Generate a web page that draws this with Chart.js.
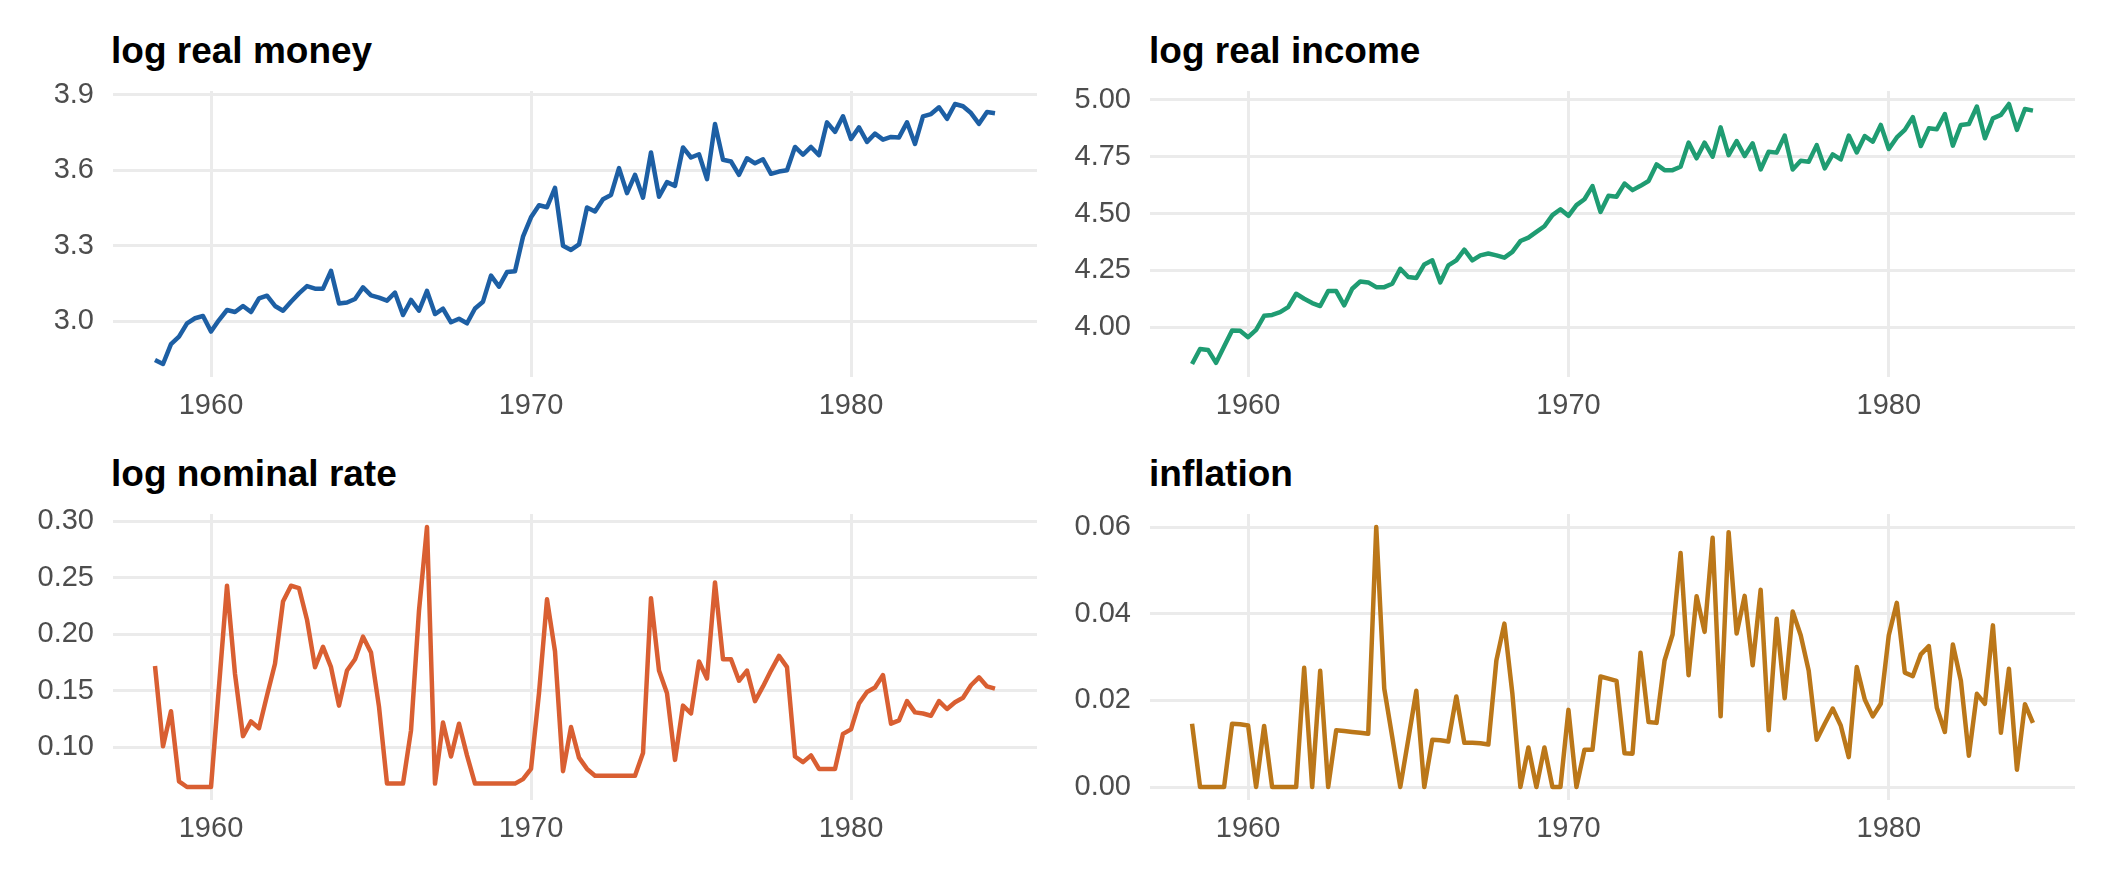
<!DOCTYPE html>
<html>
<head>
<meta charset="utf-8">
<script src="https://cdn.jsdelivr.net/npm/chart.js@4.4.1/dist/chart.umd.min.js"></script>
<style>
  html, body { margin: 0; padding: 0; background: #fff; }
  body { position: relative; width: 2112px; height: 883px; overflow: hidden; font-family: "Liberation Sans", Arial, sans-serif; }
  .panel-title { position: absolute; font-weight: bold; font-size: 37px; line-height: 37px; color: #000; white-space: nowrap; }
  canvas { position: absolute; }
</style>
</head>
<body>
<div class="panel-title" style="left:111px; top:32px">log real money</div>
<div class="panel-title" style="left:1149px; top:32px">log real income</div>
<div class="panel-title" style="left:111px; top:455px">log nominal rate</div>
<div class="panel-title" style="left:1149px; top:455px">inflation</div>

<canvas id="money" width="1037" height="366" style="left:0px; top:71px"></canvas>
<canvas id="income" width="1038" height="366" style="left:1037px; top:71px"></canvas>
<canvas id="rate" width="1037" height="366" style="left:0px; top:494px"></canvas>
<canvas id="inflation" width="1038" height="366" style="left:1037px; top:494px"></canvas>

<script>
// quarterly series, 1958 Q2 .. 1984 Q3 (one row per year)
const firstQuarter = 1958.25;

const money = [
  2.845, 2.829, 2.908,
  2.938, 2.991, 3.011, 3.020,
  2.958, 3.004, 3.044, 3.036,
  3.060, 3.036, 3.090, 3.101,
  3.060, 3.041, 3.077, 3.110,
  3.139, 3.129, 3.129, 3.200,
  3.070, 3.074, 3.088, 3.134,
  3.102, 3.093, 3.081, 3.113,
  3.024, 3.084, 3.041, 3.120,
  3.028, 3.049, 2.995, 3.009,
  2.991, 3.050, 3.077, 3.181,
  3.137, 3.195, 3.198, 3.336,
  3.413, 3.461, 3.453, 3.530,
  3.300, 3.283, 3.305, 3.452,
  3.436, 3.485, 3.502, 3.609,
  3.509, 3.582, 3.491, 3.671,
  3.495, 3.553, 3.538, 3.691,
  3.651, 3.664, 3.565, 3.784,
  3.642, 3.635, 3.582, 3.648,
  3.628, 3.644, 3.586, 3.595,
  3.600, 3.693, 3.662, 3.693,
  3.660, 3.791, 3.753, 3.815,
  3.725, 3.771, 3.713, 3.746,
  3.722, 3.733, 3.731, 3.791,
  3.705, 3.815, 3.824, 3.851,
  3.805, 3.864, 3.855, 3.828,
  3.785, 3.832, 3.827
];

const income = [
  3.838, 3.904, 3.900,
  3.843, 3.915, 3.985, 3.984,
  3.956, 3.988, 4.050, 4.054,
  4.066, 4.088, 4.147, 4.125,
  4.106, 4.093, 4.159, 4.159,
  4.096, 4.169, 4.201, 4.197,
  4.176, 4.176, 4.191, 4.257,
  4.221, 4.216, 4.276, 4.294,
  4.197, 4.272, 4.294, 4.341,
  4.294, 4.316, 4.324, 4.316,
  4.306, 4.331, 4.379, 4.394,
  4.419, 4.444, 4.493, 4.519,
  4.490, 4.537, 4.563, 4.621,
  4.507, 4.578, 4.574, 4.632,
  4.603, 4.622, 4.643, 4.716,
  4.691, 4.691, 4.706, 4.812,
  4.743, 4.812, 4.750, 4.879,
  4.757, 4.819, 4.753, 4.809,
  4.694, 4.772, 4.768, 4.843,
  4.694, 4.732, 4.728, 4.801,
  4.699, 4.760, 4.738, 4.843,
  4.769, 4.841, 4.816, 4.890,
  4.784, 4.835, 4.868, 4.924,
  4.797, 4.875, 4.871, 4.938,
  4.799, 4.890, 4.894, 4.971,
  4.831, 4.919, 4.934, 4.982,
  4.868, 4.960, 4.953
];

const rate = [
  0.172, 0.101, 0.132,
  0.070, 0.065, 0.065, 0.065,
  0.065, 0.154, 0.243, 0.165,
  0.110, 0.123, 0.117, 0.146,
  0.174, 0.229, 0.243, 0.241,
  0.213, 0.171, 0.189, 0.171,
  0.137, 0.168, 0.178, 0.198,
  0.184, 0.136, 0.068, 0.068,
  0.068, 0.115, 0.221, 0.295,
  0.068, 0.122, 0.092, 0.121,
  0.093, 0.068, 0.068, 0.068,
  0.068, 0.068, 0.068, 0.072,
  0.081, 0.148, 0.231, 0.185,
  0.079, 0.118, 0.091, 0.081,
  0.075, 0.075, 0.075, 0.075,
  0.075, 0.075, 0.095, 0.232,
  0.168, 0.148, 0.089, 0.137,
  0.130, 0.176, 0.161, 0.246,
  0.178, 0.178, 0.159, 0.168,
  0.141, 0.154, 0.168, 0.181,
  0.171, 0.092, 0.087, 0.093,
  0.081, 0.081, 0.081, 0.112,
  0.116, 0.139, 0.149, 0.153,
  0.164, 0.121, 0.124, 0.141,
  0.131, 0.130, 0.128, 0.141,
  0.134, 0.140, 0.144, 0.155,
  0.162, 0.154, 0.152
];

const inflation = [
  0.0146, 0.0000, 0.0000,
  0.0000, 0.0000, 0.0146, 0.0145,
  0.0142, 0.0000, 0.0141, 0.0000,
  0.0000, 0.0000, 0.0000, 0.0275,
  0.0000, 0.0268, 0.0000, 0.0131,
  0.0129, 0.0127, 0.0125, 0.0123,
  0.0600, 0.0227, 0.0115, 0.0000,
  0.0110, 0.0222, 0.0000, 0.0109,
  0.0108, 0.0105, 0.0209, 0.0102,
  0.0102, 0.0101, 0.0098, 0.0292,
  0.0377, 0.0215, 0.0000, 0.0091,
  0.0000, 0.0091, 0.0000, 0.0000,
  0.0178, 0.0000, 0.0086, 0.0086,
  0.0255, 0.0250, 0.0245, 0.0078,
  0.0077, 0.0310, 0.0150, 0.0148,
  0.0292, 0.0352, 0.0540, 0.0258,
  0.0440, 0.0358, 0.0575, 0.0163,
  0.0588, 0.0354, 0.0441, 0.0281,
  0.0455, 0.0131, 0.0388, 0.0205,
  0.0405, 0.0350, 0.0268, 0.0109,
  0.0146, 0.0181, 0.0142, 0.0069,
  0.0277, 0.0202, 0.0163, 0.0192,
  0.0350, 0.0425, 0.0264, 0.0256,
  0.0306, 0.0325, 0.0183, 0.0127,
  0.0329, 0.0245, 0.0072, 0.0215,
  0.0192, 0.0373, 0.0125, 0.0273,
  0.0040, 0.0191, 0.0148
];

// tick labels
const yearTicks = [1960, 1970, 1980];
const moneyTicks = [3.0, 3.3, 3.6, 3.9];
const incomeTicks = [4.0, 4.25, 4.5, 4.75, 5.0];
const rateTicks = [0.10, 0.15, 0.20, 0.25, 0.30];
const inflationTicks = [0.00, 0.02, 0.04, 0.06];

const time = money.map((_, i) => firstQuarter + i / 4);

const FONT = '"Liberation Sans", Arial, sans-serif';
const GRID = '#ebebeb';
const TICK_COLOR = '#4d4d4d';

// ggplot-style 5% expansion on each side
function expand(values) {
  const lo = Math.min(...values), hi = Math.max(...values);
  const pad = (hi - lo) * 0.05;
  return [lo - pad, hi + pad];
}

function renderPanel(canvasId, values, color, yTicks, decimals) {
  const [xMin, xMax] = expand(time);
  const [yMin, yMax] = expand(values);
  const ctx = document.getElementById(canvasId).getContext('2d');
  new Chart(ctx, {
    type: 'line',
    data: {
      datasets: [{
        data: values.map((v, i) => ({ x: time[i], y: v })),
        borderColor: color,
        borderWidth: 4.5,
        borderJoinStyle: 'round',
        borderCapStyle: 'butt',
        pointRadius: 0,
        tension: 0,
        fill: false,
      }],
    },
    options: {
      responsive: false,
      animation: false,
      layout: { padding: { top: 20, left: 0, right: 0, bottom: 0 } },
      plugins: { legend: { display: false }, tooltip: { enabled: false } },
      scales: {
        x: {
          type: 'linear',
          min: xMin,
          max: xMax,
          afterBuildTicks: (scale) => { scale.ticks = yearTicks.map((v) => ({ value: v })); },
          afterFit: (scale) => { scale.height = 60; scale.paddingLeft = 0; scale.paddingRight = 0; },
          grid: { color: GRID, lineWidth: 3, drawTicks: false },
          border: { display: false },
          ticks: {
            color: TICK_COLOR,
            font: { family: FONT, size: 29 },
            padding: 12,
            maxRotation: 0,
            callback: (v) => String(v),
          },
        },
        y: {
          min: yMin,
          max: yMax,
          afterBuildTicks: (scale) => { scale.ticks = yTicks.map((v) => ({ value: v })); },
          afterFit: (scale) => { scale.width = 113; scale.paddingTop = 0; scale.paddingBottom = 0; },
          grid: { color: GRID, lineWidth: 3, drawTicks: false },
          border: { display: false },
          ticks: {
            color: TICK_COLOR,
            font: { family: FONT, size: 29 },
            padding: 19,
            callback: (v) => Number(v).toFixed(decimals),
          },
        },
      },
    },
  });
}

renderPanel('money', money, '#1d5fa4', moneyTicks, 1);
renderPanel('income', income, '#1f9c72', incomeTicks, 2);
renderPanel('rate', rate, '#d95f32', rateTicks, 2);
renderPanel('inflation', inflation, '#bb7719', inflationTicks, 2);
</script>
</body>
</html>
